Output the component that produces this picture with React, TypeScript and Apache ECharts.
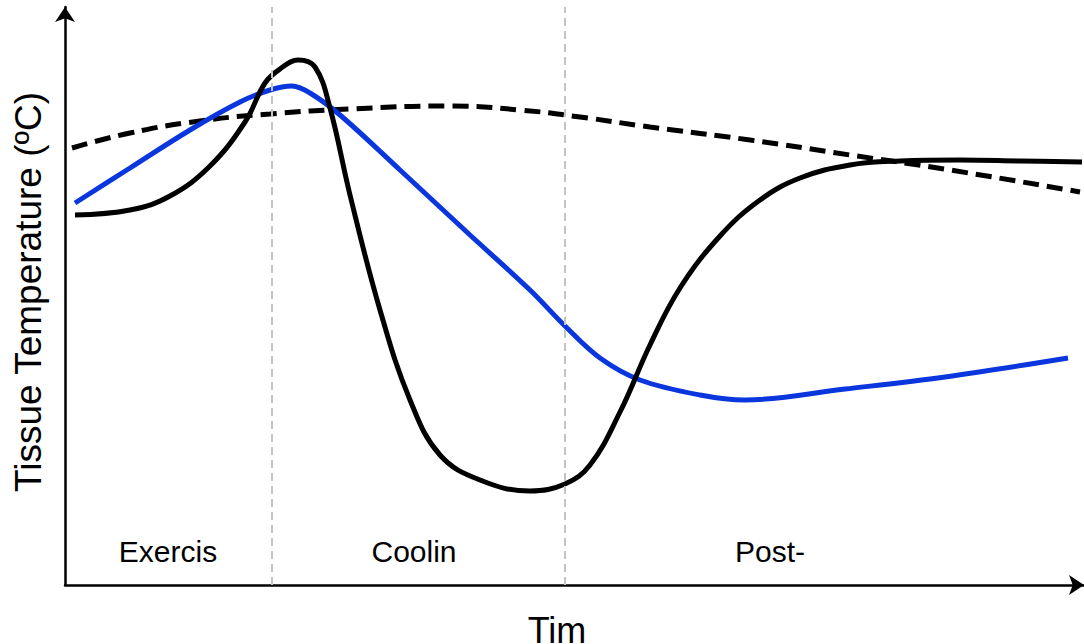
import React, { useEffect, useRef } from "react";
import * as echarts from "echarts";

// Time / temperature in arbitrary units (no tick labels in the original)
const muscleTemp: [number, number][] = [
  [10, 370], [65, 375], [105, 389], [145, 419], [180, 463], [200, 502], [215, 516],
  [233, 525], [250, 518], [265, 477], [285, 390], [315, 275], [345, 185], [375, 130],
  [415, 105], [465, 94], [500, 101], [525, 120], [555, 173], [585, 240], [615, 297],
  [655, 349], [695, 385], [735, 407], [785, 420], [835, 424], [895, 425], [955, 424],
  [1017, 423],
];
const blueTemp: [number, number][] = [
  [10, 382], [65, 417], [125, 455], [175, 483], [205, 495], [227, 499], [245, 492],
  [275, 470], [335, 415], [405, 350], [465, 295], [500, 259], [535, 227], [575, 205],
  [635, 190], [680, 185], [780, 196], [880, 208], [1003, 227],
];
const coreTemp: [number, number][] = [
  [7, 437], [65, 452], [135, 464], [205, 471], [285, 476], [385, 479], [455, 475],
  [515, 468], [585, 458], [685, 445], [785, 430], [885, 415], [1015, 393],
];
const phaseBounds = [207, 500];
const phaseLabels = ["Exercis", "Coolin", "Post-"];
const phaseCenters = [168, 414, 770];

export default function App() {
  const ref = useRef<HTMLDivElement>(null);
  useEffect(() => {
    if (!ref.current) return;
    const chart = echarts.init(ref.current, null, { renderer: "svg" });
    const font = "Liberation Sans, Arial, sans-serif";
    chart.setOption({
      animation: false,
      backgroundColor: "#ffffff",
      grid: { left: 65, right: 0, top: 7, bottom: 59, containLabel: false },
      xAxis: {
        type: "value",
        min: 0,
        max: 1019,
        axisLine: {
          show: true,
          symbol: ["none", "arrow"],
          symbolSize: [15, 15],
          lineStyle: { color: "#000", width: 2.5 },
        },
        axisTick: { show: false },
        axisLabel: { show: false },
        splitLine: { show: false },
      },
      yAxis: {
        type: "value",
        min: 0,
        max: 578,
        axisLine: {
          show: true,
          symbol: ["none", "arrow"],
          symbolSize: [15, 15],
          lineStyle: { color: "#000", width: 2.5 },
        },
        axisTick: { show: false },
        axisLabel: { show: false },
        splitLine: { show: false },
      },
      series: [
        {
          type: "line",
          data: coreTemp,
          smooth: 0.5,
          showSymbol: false,
          lineStyle: { color: "#000", width: 5, type: [16, 8] },
          z: 2,
        },
        {
          type: "line",
          data: blueTemp,
          smooth: 0.35,
          showSymbol: false,
          lineStyle: { color: "#0a36de", width: 5 },
          z: 3,
        },
        {
          type: "line",
          data: muscleTemp,
          smooth: 0.4,
          showSymbol: false,
          lineStyle: { color: "#000", width: 5 },
          z: 4,
          markLine: {
            silent: true,
            symbol: "none",
            label: { show: false },
            lineStyle: { color: "#c4c4c4", width: 2, type: [8, 5] },
            data: phaseBounds.map((b) => ({ xAxis: b })),
          },
        },
      ],
      graphic: [
        ...phaseLabels.map((t, i) => ({
          type: "text",
          x: phaseCenters[i],
          y: 551,
          style: {
            text: t,
            fontFamily: font,
            fontSize: 30,
            fill: "#000",
            align: "center",
            verticalAlign: "middle",
          },
        })),
        {
          type: "text",
          x: 557,
          y: 630,
          style: {
            text: "Tim",
            fontFamily: font,
            fontSize: 36,
            fill: "#000",
            align: "center",
            verticalAlign: "middle",
          },
        },
        {
          type: "text",
          x: 28,
          y: 292,
          rotation: Math.PI / 2,
          style: {
            text: "Tissue Temperature (ºC)",
            fontFamily: font,
            fontSize: 37,
            fill: "#000",
            align: "center",
            verticalAlign: "middle",
          },
        },
      ],
    });
    return () => chart.dispose();
  }, []);
  return <div ref={ref} style={{ width: 1084, height: 644, position: "fixed", left: 0, top: 0 }} />;
}
